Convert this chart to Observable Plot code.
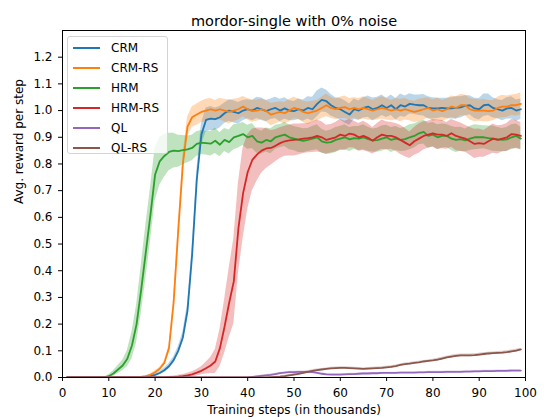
<!DOCTYPE html>
<html>
<head>
<meta charset="utf-8">
<script src="https://cdn.jsdelivr.net/npm/d3@7"></script>
<script src="https://cdn.jsdelivr.net/npm/@observablehq/plot@0.6"></script>
<style>
  html, body { margin: 0; padding: 0; background: #fff; }
  #wrap { position: relative; width: 544px; height: 417px; font-family: "DejaVu Sans", sans-serif; }
  #legend { position: absolute; left: 67px; top: 36px; width: 99px; height: 116px; border: 1px solid #d4d4d4; border-radius: 3px; background: rgba(255,255,255,0.8); font-size: 12px; }
  .lg-item { position: absolute; left: 0; height: 20px; width: 100%; }
  .lg-line { position: absolute; left: 5px; width: 27px; top: 9px; height: 2px; }
  .lg-text { position: absolute; left: 43px; top: 2px; line-height: 16px; color: #000; }
</style>
</head>
<body>
<div id="wrap"></div>
<script>
const chartTitle = "mordor-single with 0% noise";
const xLabel = "Training steps (in thousands)";
const yLabel = "Avg. reward per step";
const seriesNames = ["CRM", "CRM-RS", "HRM", "HRM-RS", "QL", "QL-RS"];
const seriesColors = ["#1f77b4", "#ff7f0e", "#2ca02c", "#d62728", "#9467bd", "#8c564b"];
const xTicks = [0, 10, 20, 30, 40, 50, 60, 70, 80, 90, 100];
const yTicks = [0.0, 0.1, 0.2, 0.3, 0.4, 0.5, 0.6, 0.7, 0.8, 0.9, 1.0, 1.1, 1.2];
const steps = [1,2,3,4,5,6,7,8,9,10,11,12,13,14,15,16,17,18,19,20,21,22,23,24,25,26,27,28,29,30,31,32,33,34,35,36,37,38,39,40,41,42,43,44,45,46,47,48,49,50,51,52,53,54,55,56,57,58,59,60,61,62,63,64,65,66,67,68,69,70,71,72,73,74,75,76,77,78,79,80,81,82,83,84,85,86,87,88,89,90,91,92,93,94,95,96,97,98,99];

const crmMean = [
0,0,0,0,0,0,0,0,0,0,
0,0,0,0,0,0.001,0.002,0.003,0.006,0.01,
0.017,0.027,0.042,0.065,0.1,0.15,0.25,0.46,0.74,0.91,
0.965,0.97,0.968,0.975,0.99,1.0,0.995,0.99,1.0,1.005,
1.0,1.01,1.005,0.998,1.005,1.01,1.0,1.008,1.0,0.998,
1.005,1.0,1.01,1.005,1.025,1.04,1.035,1.02,1.01,1.005,
0.995,0.985,1.005,1.0,1.01,1.015,1.005,1.01,1.02,1.01,
1.02,1.005,1.02,1.015,1.025,1.022,1.02,1.02,1.01,1.008,
1.008,1.01,1.008,1.008,1.01,1.012,1.018,1.02,1.008,1.005,
1.02,1.022,1.01,1.005,1.0,1.008,1.01,1.0,1.005];
const crmSd = [
0.002,0.002,0.002,0.002,0.002,0.002,0.002,0.002,0.002,0.002,
0.002,0.002,0.002,0.002,0.002,0.002,0.002,0.004,0.005,0.006,
0.007,0.008,0.01,0.012,0.015,0.02,0.025,0.03,0.035,0.04,
0.045,0.045,0.042,0.04,0.038,0.04,0.042,0.04,0.038,0.036,
0.038,0.04,0.042,0.04,0.038,0.04,0.042,0.04,0.038,0.036,
0.038,0.04,0.042,0.045,0.048,0.045,0.042,0.04,0.038,0.04,
0.042,0.04,0.038,0.036,0.038,0.04,0.042,0.04,0.038,0.036,
0.038,0.04,0.042,0.04,0.038,0.036,0.038,0.04,0.042,0.04,
0.038,0.036,0.038,0.04,0.042,0.04,0.038,0.036,0.038,0.04,
0.042,0.04,0.038,0.036,0.038,0.04,0.042,0.04,0.038];

const crmRsMean = [
0,0,0,0,0,0,0,0,0,0,
0,0,0,0,0,0.001,0.002,0.004,0.01,0.02,
0.033,0.055,0.11,0.28,0.55,0.8,0.94,0.975,0.985,0.995,
1.0,1.005,1.0,1.005,1.0,0.995,1.0,1.005,1.015,1.005,
0.998,1.0,1.005,0.998,0.985,0.99,0.995,0.99,1.0,1.01,
1.005,0.995,0.99,0.995,1.0,1.01,1.02,1.01,1.005,1.01,
1.013,1.005,1.01,1.005,1.01,1.005,1.0,1.005,1.01,1.005,
1.0,1.005,1.0,1.005,1.0,0.995,1.0,1.005,1.01,1.0,
1.005,0.998,1.005,1.015,1.01,1.02,1.02,1.005,1.0,1.0,
1.0,0.998,1.0,1.01,1.015,1.015,1.02,1.02,1.025];
const crmRsSd = [
0.002,0.002,0.002,0.002,0.002,0.002,0.002,0.002,0.002,0.002,
0.002,0.002,0.002,0.002,0.002,0.002,0.002,0.002,0.004,0.005,
0.005,0.006,0.01,0.02,0.025,0.03,0.035,0.038,0.04,0.04,
0.042,0.04,0.038,0.04,0.042,0.045,0.042,0.04,0.038,0.04,
0.042,0.04,0.038,0.04,0.042,0.04,0.038,0.04,0.042,0.04,
0.038,0.04,0.042,0.04,0.038,0.04,0.042,0.04,0.038,0.04,
0.042,0.04,0.038,0.04,0.042,0.04,0.038,0.04,0.042,0.04,
0.038,0.04,0.042,0.04,0.038,0.04,0.042,0.04,0.038,0.04,
0.042,0.04,0.038,0.04,0.042,0.04,0.038,0.04,0.042,0.04,
0.042,0.04,0.038,0.04,0.042,0.04,0.038,0.04,0.042];

const hrmMean = [
0,0,0,0,0,0,0,0,0,0.005,
0.015,0.03,0.045,0.07,0.12,0.2,0.33,0.47,0.61,0.76,
0.81,0.83,0.845,0.85,0.848,0.852,0.855,0.86,0.875,0.88,
0.878,0.876,0.887,0.872,0.89,0.882,0.9,0.905,0.912,0.9,
0.905,0.885,0.88,0.89,0.885,0.9,0.905,0.91,0.9,0.895,
0.89,0.887,0.89,0.895,0.9,0.885,0.88,0.882,0.89,0.895,
0.9,0.892,0.897,0.895,0.9,0.893,0.888,0.889,0.895,0.9,
0.89,0.895,0.89,0.893,0.9,0.905,0.915,0.92,0.905,0.91,
0.9,0.905,0.905,0.895,0.89,0.893,0.888,0.895,0.9,0.9,
0.9,0.897,0.895,0.892,0.89,0.892,0.9,0.905,0.895];
const hrmSd = [
0.002,0.002,0.002,0.002,0.002,0.002,0.002,0.002,0.002,0.005,
0.01,0.015,0.02,0.03,0.05,0.07,0.09,0.1,0.1,0.1,
0.09,0.08,0.07,0.065,0.06,0.055,0.05,0.048,0.046,0.045,
0.044,0.046,0.048,0.045,0.043,0.045,0.047,0.045,0.043,0.045,
0.047,0.045,0.043,0.045,0.047,0.045,0.043,0.045,0.047,0.045,
0.047,0.045,0.043,0.045,0.047,0.045,0.043,0.045,0.047,0.045,
0.047,0.045,0.043,0.045,0.047,0.045,0.043,0.045,0.047,0.045,
0.047,0.045,0.043,0.045,0.047,0.045,0.043,0.045,0.047,0.045,
0.047,0.045,0.043,0.045,0.047,0.045,0.043,0.045,0.047,0.045,
0.043,0.045,0.047,0.045,0.043,0.045,0.047,0.045,0.043];

const hrmRsMean = [
0,0,0,0,0,0,0,0,0,0,
0,0,0,0,0,0,0,0,0,0,
0,0,0.001,0.002,0.003,0.005,0.008,0.012,0.018,0.025,
0.035,0.045,0.06,0.11,0.19,0.28,0.36,0.56,0.69,0.77,
0.815,0.835,0.85,0.858,0.86,0.868,0.878,0.885,0.888,0.89,
0.892,0.895,0.897,0.9,0.905,0.9,0.89,0.895,0.9,0.91,
0.905,0.914,0.91,0.9,0.905,0.898,0.887,0.9,0.91,0.905,
0.905,0.9,0.89,0.88,0.87,0.885,0.895,0.905,0.91,0.915,
0.91,0.91,0.905,0.915,0.905,0.9,0.895,0.885,0.875,0.878,
0.875,0.885,0.895,0.89,0.895,0.9,0.912,0.91,0.905];
const hrmRsSd = [
0.002,0.002,0.002,0.002,0.002,0.002,0.002,0.002,0.002,0.002,
0.002,0.002,0.002,0.002,0.002,0.002,0.002,0.002,0.002,0.002,
0.002,0.002,0.003,0.004,0.005,0.006,0.008,0.01,0.012,0.015,
0.022,0.03,0.045,0.07,0.1,0.13,0.16,0.17,0.17,0.14,
0.115,0.1,0.085,0.075,0.065,0.06,0.058,0.056,0.058,0.06,
0.058,0.056,0.055,0.057,0.06,0.058,0.055,0.053,0.055,0.057,
0.055,0.053,0.05,0.052,0.055,0.053,0.05,0.052,0.055,0.053,
0.05,0.052,0.055,0.053,0.05,0.052,0.055,0.053,0.05,0.052,
0.055,0.053,0.05,0.052,0.055,0.053,0.05,0.052,0.055,0.053,
0.05,0.052,0.055,0.053,0.05,0.052,0.055,0.053,0.05];

const qlMean = [
0,0,0,0,0,0,0,0,0,0,
0,0,0,0,0,0,0,0,0,0,
0,0,0,0,0,0,0,0,0,0,
0,0,0,0,0,0,0,0,0,0,
0.002,0.004,0.006,0.008,0.01,0.013,0.016,0.018,0.02,0.02,
0.021,0.021,0.021,0.02,0.017,0.014,0.012,0.011,0.011,0.011,
0.012,0.013,0.013,0.014,0.015,0.015,0.016,0.016,0.017,0.017,
0.017,0.017,0.018,0.018,0.018,0.018,0.019,0.019,0.02,0.02,
0.02,0.02,0.021,0.021,0.021,0.021,0.022,0.022,0.023,0.023,
0.024,0.024,0.024,0.025,0.025,0.025,0.026,0.026,0.026];
const qlSd = [
0.001,0.001,0.001,0.001,0.001,0.001,0.001,0.001,0.001,0.001,
0.001,0.001,0.001,0.001,0.001,0.001,0.001,0.001,0.001,0.001,
0.001,0.001,0.001,0.001,0.001,0.001,0.001,0.001,0.001,0.001,
0.001,0.001,0.001,0.001,0.001,0.001,0.001,0.001,0.001,0.001,
0.002,0.002,0.003,0.003,0.003,0.003,0.003,0.003,0.003,0.003,
0.003,0.003,0.003,0.003,0.003,0.003,0.003,0.003,0.003,0.003,
0.003,0.003,0.003,0.003,0.003,0.003,0.003,0.003,0.003,0.003,
0.003,0.003,0.003,0.003,0.003,0.003,0.003,0.003,0.003,0.003,
0.003,0.003,0.003,0.003,0.003,0.003,0.003,0.003,0.003,0.003,
0.003,0.003,0.003,0.003,0.003,0.003,0.003,0.003,0.003];

const qlRsMean = [
0,0,0,0,0,0,0,0,0,0,
0,0,0,0,0,0,0,0,0,0,
0,0,0,0,0,0,0,0,0,0,
0,0,0,0,0,0,0,0,0,0,
0,0,0,0,0.001,0.002,0.003,0.005,0.008,0.011,
0.014,0.017,0.021,0.025,0.028,0.03,0.032,0.034,0.035,0.036,
0.036,0.035,0.034,0.033,0.032,0.033,0.034,0.035,0.036,0.038,
0.04,0.043,0.047,0.05,0.052,0.055,0.057,0.06,0.062,0.064,
0.067,0.071,0.075,0.078,0.081,0.083,0.083,0.083,0.084,0.086,
0.088,0.09,0.091,0.092,0.093,0.095,0.098,0.101,0.105];
const qlRsSd = [
0.001,0.001,0.001,0.001,0.001,0.001,0.001,0.001,0.001,0.001,
0.001,0.001,0.001,0.001,0.001,0.001,0.001,0.001,0.001,0.001,
0.001,0.001,0.001,0.001,0.001,0.001,0.001,0.001,0.001,0.001,
0.001,0.001,0.001,0.001,0.001,0.001,0.001,0.001,0.001,0.001,
0.001,0.001,0.001,0.001,0.002,0.002,0.003,0.003,0.003,0.004,
0.004,0.004,0.004,0.004,0.004,0.004,0.004,0.004,0.004,0.004,
0.004,0.004,0.004,0.004,0.004,0.004,0.004,0.004,0.004,0.004,
0.004,0.004,0.004,0.004,0.004,0.004,0.004,0.004,0.004,0.004,
0.005,0.005,0.005,0.005,0.005,0.005,0.005,0.005,0.005,0.005,
0.005,0.005,0.005,0.005,0.005,0.005,0.005,0.005,0.005];

const seriesMeans = [crmMean, crmRsMean, hrmMean, hrmRsMean, qlMean, qlRsMean];
const seriesSds = [crmSd, crmRsSd, hrmSd, hrmRsSd, qlSd, qlRsSd];

seriesMeans.forEach((m, i) => { if (m.length !== steps.length) throw new Error("mean length " + seriesNames[i] + " " + m.length); });
seriesSds.forEach((m, i) => { if (m.length !== steps.length) throw new Error("sd length " + seriesNames[i] + " " + m.length); });

const rows = [];
seriesNames.forEach((name, si) => {
  steps.forEach((x, i) => {
    const y = seriesMeans[si][i], sd = seriesSds[si][i];
    rows.push({series: name, x, y, lo: y - sd, hi: y + sd});
  });
});

// bands first (below), then all lines on top, like matplotlib's z-order
const bandMarks = seriesNames.map(name =>
  Plot.areaY(rows.filter(r => r.series === name), {x: "x", y1: "lo", y2: "hi", fill: "series", fillOpacity: 0.3, clip: true}));
const lineMarks = seriesNames.map(name =>
  Plot.lineY(rows.filter(r => r.series === name), {x: "x", y: "y", stroke: "series", strokeWidth: 1.8, clip: true}));

const chart = Plot.plot({
  width: 544,
  height: 417,
  marginLeft: 62,
  marginRight: 19,
  marginTop: 30,
  marginBottom: 40,
  style: {fontFamily: "DejaVu Sans", fontSize: "12px", color: "#000", background: "#fff"},
  x: {domain: [0, 100]},
  y: {domain: [0, 1.3]},
  color: {domain: seriesNames, range: seriesColors},
  marks: [
    ...bandMarks,
    ...lineMarks,
    Plot.axisX({ticks: xTicks, tickFormat: d => String(d), tickSize: 4, tickPadding: 7, label: null, fontSize: 12}),
    Plot.axisY({ticks: yTicks, tickFormat: d3.format(".1f"), tickSize: 4, tickPadding: 6, label: null, fontSize: 12}),
    Plot.frame({stroke: "#000", strokeWidth: 1}),
    Plot.text([chartTitle], {frameAnchor: "top", dy: -15, fontSize: 14.5, fill: "#000"}),
    Plot.text([xLabel], {frameAnchor: "bottom", dy: 36, fontSize: 12, fill: "#000"}),
    Plot.text([yLabel], {frameAnchor: "left", dx: -43, rotate: -90, fontSize: 12, fill: "#000"})
  ]
});

const wrap = document.getElementById("wrap");
wrap.appendChild(chart);

const legend = document.createElement("div");
legend.id = "legend";
seriesNames.forEach((name, i) => {
  const item = document.createElement("div");
  item.className = "lg-item";
  item.style.top = (1 + 20 * i) + "px";
  const line = document.createElement("div");
  line.className = "lg-line";
  line.style.background = chart.scale("color").apply(name);
  const txt = document.createElement("div");
  txt.className = "lg-text";
  txt.textContent = name;
  item.appendChild(line);
  item.appendChild(txt);
  legend.appendChild(item);
});
wrap.appendChild(legend);
</script>
</body>
</html>
